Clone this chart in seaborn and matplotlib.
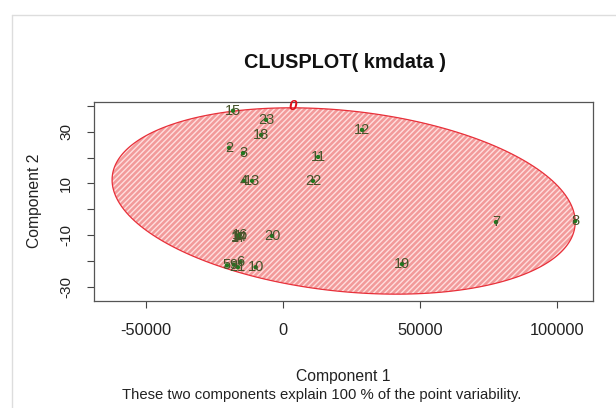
import numpy as np
import pandas as pd
import matplotlib
matplotlib.use("Agg")
import matplotlib.pyplot as plt
import seaborn as sns
from matplotlib.patches import Polygon

# ---- data ----
labels = ["1", "2", "3", "4", "5", "6", "7", "8", "9", "10", "11", "12",
          "13", "14", "15", "16", "17", "18", "19", "20", "21", "22", "23"]
comp1 = [-16500, -19700, -14600, -14200, -20500, -15500, 77700, 106600, -18000, -10000, 12800, 28800,
         -11300, -16000, -18300, -15800, -16200, -8000, 43400, -4000, -16500, 10900, -6200]
comp2 = [-10.2, 23.8, 21.8, 11.0, -21.8, -20.5, -5.0, -4.6, -21.5, -22.5, 20.3, 30.8,
         11.0, -10.6, 38.2, -9.9, -11.2, 28.8, -21.3, -10.4, -22.5, 11.0, 34.7]

# cluster ellipse (centre and conjugate half-axes, data units)
ell_center = (22100, 3.2)
ell_p = (84500, -8.2)
ell_q = (0, 35.2)
cluster_label = "0"
cluster_label_pos = (3650, 40.1)

x_ticks = [-50000, 0, 50000, 100000]
y_ticks = [-30, -20, -10, 0, 10, 20, 30, 40]
y_ticklabels = ["-30", "", "-10", "", "10", "", "30", ""]

df = pd.DataFrame({"Component 1": comp1, "Component 2": comp2, "label": labels})

sns.set_style("white")
plt.rcParams["font.family"] = ["Liberation Sans", "DejaVu Sans"]
plt.rcParams["axes.unicode_minus"] = False

fig = plt.figure(figsize=(6.16, 4.08), dpi=100)
fig.patch.set_facecolor("white")
ax = fig.add_axes([94 / 616, 1 - 301 / 408, (593 - 94) / 616, (301 - 102) / 408])

# ellipse
t = np.linspace(0, 2 * np.pi, 400)
ex = ell_center[0] + ell_p[0] * np.cos(t) + ell_q[0] * np.sin(t)
ey = ell_center[1] + ell_p[1] * np.cos(t) + ell_q[1] * np.sin(t)
verts = np.column_stack([ex, ey])
ax.add_patch(Polygon(verts, closed=True, facecolor="#f29a9a", edgecolor="none", zorder=1))
ax.add_patch(Polygon(verts, closed=True, facecolor="none", edgecolor="#ffdede", hatch="//////",
                     linewidth=0, zorder=1.2))
ax.add_patch(Polygon(verts, closed=True, facecolor="none", edgecolor="#e8303a", linewidth=0.9, zorder=2))

sns.scatterplot(data=df, x="Component 1", y="Component 2", ax=ax, color="#1f7a1f",
                s=10, marker="o", edgecolor="none", zorder=3, legend=False)
for lab, xv, yv in zip(labels, comp1, comp2):
    ax.text(xv, yv, lab, ha="center", va="center", fontsize=10.5, color="#46532a", zorder=4)

ax.text(cluster_label_pos[0], cluster_label_pos[1], cluster_label, color="#e0101a", fontsize=11,
        ha="center", va="center", style="italic", fontweight="bold", zorder=5, clip_on=False)

ax.set_xlim(-69000, 113100)
ax.set_ylim(-35.6, 41.6)
ax.set_xticks(x_ticks)
ax.set_xticklabels([str(v) for v in x_ticks])
ax.set_yticks(y_ticks)
ax.set_yticklabels(y_ticklabels, rotation=90, va="center")
ax.tick_params(axis="both", direction="out", length=5, width=0.8, color="#444444",
               labelcolor="#222222", bottom=True, left=True)
ax.tick_params(axis="x", pad=11, labelsize=11.8)
ax.tick_params(axis="y", pad=10, labelsize=11)
for s in ax.spines.values():
    s.set_color("#555555")
    s.set_linewidth(0.9)
ax.set_xlabel("")
ax.set_ylabel("")

fig.text(345 / 616, 1 - 62 / 408, "CLUSPLOT( kmdata )", ha="center", va="center",
         fontsize=14.3, fontweight="bold", color="#111111")
fig.text(343 / 616, 1 - 376 / 408, "Component 1", ha="center", va="center",
         fontsize=11.3, color="#222222")
fig.text(322 / 616, 1 - 395 / 408, "These two components explain 100 % of the point variability.",
         ha="center", va="center", fontsize=10.7, color="#222222")
fig.text(35 / 616, 1 - 201 / 408, "Component 2", ha="center", va="center", rotation=90,
         fontsize=11.3, color="#222222")

# faint screenshot frame
fig.add_artist(plt.Line2D([12 / 616, 1], [1 - 15 / 408, 1 - 15 / 408], color="#dddddd", lw=1))
fig.add_artist(plt.Line2D([12 / 616, 12 / 616], [1 - 15 / 408, 0], color="#dddddd", lw=1))

fig.savefig("out.png", dpi=100, facecolor="white")
